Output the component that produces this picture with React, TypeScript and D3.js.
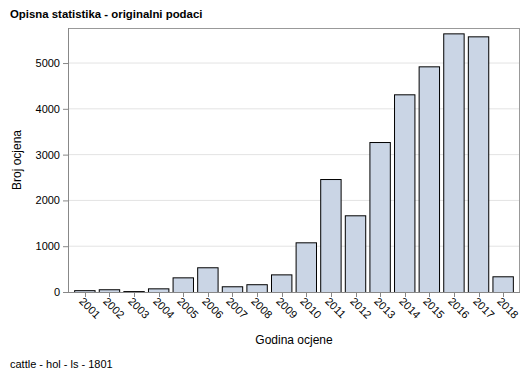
import React from "react";
import * as d3 from "d3";

const years = ["2001","2002","2003","2004","2005","2006","2007","2008","2009","2010","2011","2012","2013","2014","2015","2016","2017","2018"];
const counts = [40, 60, 20, 80, 320, 540, 125, 170, 385, 1085, 2467, 1675, 3275, 4317, 4928, 5648, 5583, 343];
const yTicks = [0, 1000, 2000, 3000, 4000, 5000];

const W = 529, H = 378;
const left = 68, right = 520, top = 28, bottom = 292;
const font = "Liberation Sans, Arial, sans-serif";

export default function App() {
  const x = d3.scaleBand<string>().domain(years).range([left, right]).paddingInner(0.13).paddingOuter(0.25);
  const y = d3.scaleLinear().domain([0, 5765]).range([bottom, top]);
  return (
    <svg width={W} height={H} style={{ position: "absolute", left: 0, top: 0, background: "#fff" }} fontFamily={font}>
      <rect x={0} y={0} width={W} height={H} fill="#fff" />
      <text x={10} y={18} fontSize={11.4} fontWeight="bold" fill="#000">Opisna statistika - originalni podaci</text>
      {yTicks.map(t => (
        <g key={t}>
          {t > 0 && <line x1={left} x2={right} y1={y(t)} y2={y(t)} stroke="#e3e3e3" />}
          <line x1={left - 5} x2={left} y1={y(t) + 0.5} y2={y(t) + 0.5} stroke="#888" />
          <text x={left - 8} y={y(t) + 4} fontSize={11} textAnchor="end" fill="#000">{t}</text>
        </g>
      ))}
      {years.map((yr, i) => (
        <rect key={yr} x={x(yr)! + 0.5} y={y(counts[i]) + 0.5} width={x.bandwidth() - 1} height={bottom - y(counts[i])}
          fill="#cad5e5" stroke="#000" strokeWidth={1} />
      ))}
      <rect x={left + 0.5} y={top + 0.5} width={right - left - 1} height={bottom - top} fill="none" stroke="#999" />
      <line x1={left + 0.5} x2={left + 0.5} y1={top} y2={bottom} stroke="#888" />
      <line x1={left} x2={right} y1={bottom + 0.5} y2={bottom + 0.5} stroke="#888" />
      {years.map(yr => {
        const cx = Math.round(x(yr)! + x.bandwidth() / 2) + 0.5;
        return (
          <g key={yr}>
            <line x1={cx} x2={cx} y1={bottom} y2={bottom + 5} stroke="#888" />
            <text transform={`translate(${cx - 7},${bottom + 10}) rotate(45)`} fontSize={11} fill="#000">{yr}</text>
          </g>
        );
      })}
      <text transform={`translate(21,${(top + bottom) / 2}) rotate(-90)`} textAnchor="middle" fontSize={12} fill="#000">Broj ocjena</text>
      <text x={(left + right) / 2} y={344} textAnchor="middle" fontSize={12} fill="#000">Godina ocjene</text>
      <text x={10} y={368} fontSize={11} fill="#000">cattle - hol - ls - 1801</text>
    </svg>
  );
}
